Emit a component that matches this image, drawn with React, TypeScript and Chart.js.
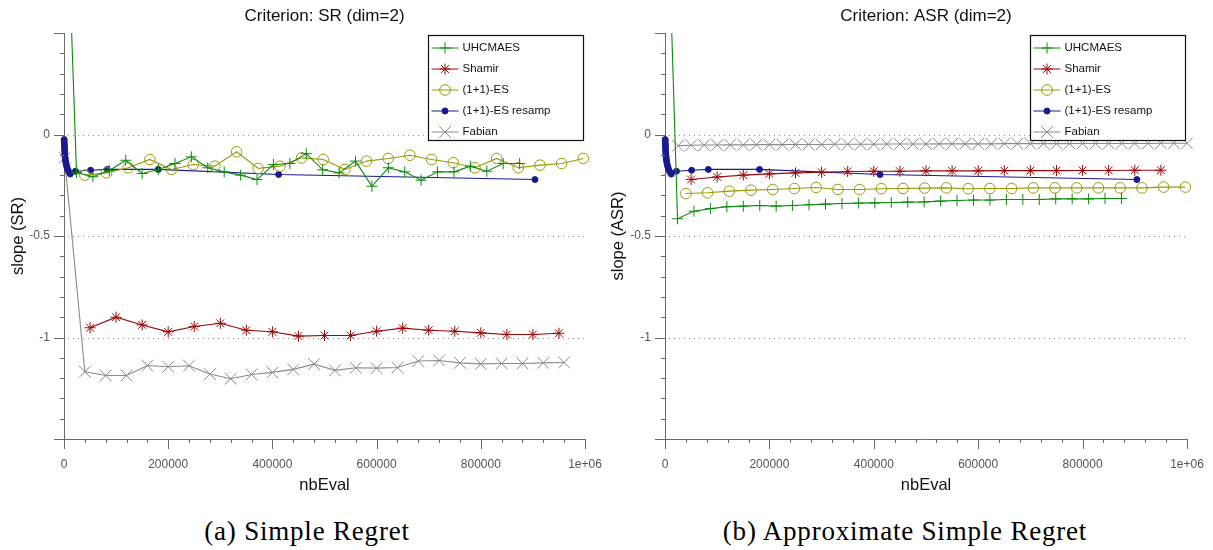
import React, { useEffect, useRef } from 'react';
import { Chart, registerables } from 'chart.js';

Chart.register(...registerables);

// ---------------- data ----------------
const UHC_X = [0, 24000, 55500, 87000, 118500, 150000, 181500, 213000, 244500, 276000, 307500, 339000, 370500, 402000, 433500, 465000, 496500, 528000, 559500, 591000, 622500, 654000, 685500, 717000, 748500, 780000, 811500, 843000, 874500];
const SR_UHC = [1.58, -0.187, -0.208, -0.177, -0.127, -0.192, -0.172, -0.143, -0.110, -0.164, -0.184, -0.200, -0.222, -0.148, -0.143, -0.094, -0.174, -0.189, -0.131, -0.255, -0.164, -0.184, -0.225, -0.184, -0.184, -0.156, -0.181, -0.143, -0.143];
const ASR_UHC = [1.58, -0.415, -0.378, -0.365, -0.356, -0.353, -0.350, -0.353, -0.350, -0.346, -0.343, -0.340, -0.338, -0.337, -0.335, -0.333, -0.332, -0.328, -0.325, -0.323, -0.323, -0.320, -0.320, -0.320, -0.317, -0.317, -0.317, -0.315, -0.315];

const SHAMIR_X = [50000, 100000, 150000, 200000, 250000, 300000, 350000, 400000, 450000, 500000, 550000, 600000, 650000, 700000, 750000, 800000, 850000, 900000, 950000];
const SR_SHAMIR = [-0.952, -0.900, -0.938, -0.972, -0.946, -0.930, -0.964, -0.972, -0.993, -0.990, -0.990, -0.969, -0.954, -0.964, -0.969, -0.977, -0.985, -0.985, -0.979];
const ASR_SHAMIR = [-0.222, -0.209, -0.200, -0.194, -0.189, -0.186, -0.182, -0.181, -0.181, -0.179, -0.179, -0.179, -0.178, -0.178, -0.178, -0.177, -0.177, -0.176, -0.176];

const ES_X = [40000, 81600, 123200, 164800, 206400, 248000, 289600, 331200, 372800, 414400, 456000, 497600, 539200, 580800, 622400, 664000, 705600, 747200, 788800, 830400, 872000, 913600, 955200, 996800];
const SR_ES = [-0.200, -0.189, -0.164, -0.123, -0.172, -0.148, -0.156, -0.085, -0.167, -0.156, -0.115, -0.123, -0.172, -0.131, -0.118, -0.102, -0.123, -0.139, -0.164, -0.118, -0.164, -0.151, -0.143, -0.118];
const ASR_ES = [-0.291, -0.287, -0.279, -0.274, -0.271, -0.266, -0.261, -0.271, -0.271, -0.267, -0.266, -0.264, -0.263, -0.267, -0.266, -0.266, -0.263, -0.263, -0.263, -0.263, -0.263, -0.263, -0.259, -0.259];

const RESAMP_X = [300, 500, 700, 900, 1100, 1300, 1600, 2000, 2600, 3300, 4300, 5500, 7000, 9000, 12000, 22000, 51000, 83000, 181000, 412000, 904000];
const SR_RESAMP = [-0.025, -0.035, -0.048, -0.060, -0.072, -0.085, -0.098, -0.110, -0.122, -0.135, -0.148, -0.160, -0.172, -0.183, -0.195, -0.181, -0.176, -0.172, -0.172, -0.197, -0.222];
const ASR_RESAMP = [-0.025, -0.035, -0.048, -0.060, -0.072, -0.085, -0.098, -0.110, -0.122, -0.135, -0.148, -0.160, -0.172, -0.183, -0.195, -0.181, -0.176, -0.172, -0.172, -0.197, -0.222];

const FABIAN_SR_X = [1000, 40000, 80000, 120000, 160000, 200000, 240000, 280000, 320000, 360000, 400000, 440000, 480000, 520000, 560000, 600000, 640000, 680000, 720000, 760000, 800000, 840000, 880000, 920000, 960000];
const SR_FABIAN = [-0.115, -1.169, -1.187, -1.187, -1.138, -1.144, -1.139, -1.180, -1.203, -1.182, -1.172, -1.157, -1.131, -1.162, -1.149, -1.151, -1.148, -1.116, -1.113, -1.125, -1.130, -1.128, -1.128, -1.125, -1.123];
const FABIAN_ASR_X = [25000, 50000, 75000, 100000, 125000, 150000, 175000, 200000, 225000, 250000, 275000, 300000, 325000, 350000, 375000, 400000, 425000, 450000, 475000, 500000, 525000, 550000, 575000, 600000, 625000, 650000, 675000, 700000, 725000, 750000, 775000, 800000, 825000, 850000, 875000, 900000, 925000, 950000, 975000, 1000000];
const ASR_FABIAN = [-0.055, -0.053, -0.052, -0.052, -0.051, -0.051, -0.050, -0.050, -0.050, -0.049, -0.049, -0.049, -0.048, -0.048, -0.048, -0.048, -0.047, -0.047, -0.047, -0.047, -0.046, -0.046, -0.046, -0.046, -0.046, -0.045, -0.045, -0.045, -0.045, -0.045, -0.045, -0.044, -0.044, -0.044, -0.044, -0.044, -0.044, -0.043, -0.043, -0.043];

const SERIES_NAMES = ['UHCMAES', 'Shamir', '(1+1)-ES', '(1+1)-ES resamp', 'Fabian'];
const Y_LABEL_TICKS = [-1, -0.5, 0];
const GRID_Y = [-1, -0.5, 0];
const X_STEP = 200000;

// ---------------- styles ----------------
const FONT = "'Liberation Sans', Arial, Helvetica, sans-serif";
const SERIF = "'Liberation Serif', 'Times New Roman', serif";

type Marker = 'cross' | 'star' | 'circle' | 'crossRot';
type Style = { color: string; marker: Marker; radius: number; filled: boolean };
const STYLES: Style[] = [
  { color: '#0c8c0c', marker: 'cross', radius: 5.5, filled: false },
  { color: '#990808', marker: 'star', radius: 5.5, filled: false },
  { color: '#999908', marker: 'circle', radius: 5.3, filled: false },
  { color: '#1a1a8e', marker: 'circle', radius: 3, filled: true },
  { color: '#8a8a8a', marker: 'crossRot', radius: 8.3, filled: false },
];

function drawMarker(ctx: CanvasRenderingContext2D, s: Style, x: number, y: number) {
  const r = s.radius;
  ctx.save();
  ctx.strokeStyle = s.color;
  ctx.fillStyle = s.color;
  ctx.lineWidth = 1;
  ctx.beginPath();
  if (s.marker === 'circle') {
    ctx.arc(x, y, r, 0, Math.PI * 2);
    if (s.filled) ctx.fill();
    ctx.stroke();
  } else {
    if (s.marker === 'cross' || s.marker === 'star') {
      ctx.moveTo(x - r, y); ctx.lineTo(x + r, y);
      ctx.moveTo(x, y - r); ctx.lineTo(x, y + r);
    }
    if (s.marker === 'crossRot' || s.marker === 'star') {
      const d = r * Math.SQRT1_2;
      ctx.moveTo(x - d, y - d); ctx.lineTo(x + d, y + d);
      ctx.moveTo(x - d, y + d); ctx.lineTo(x + d, y - d);
    }
    ctx.stroke();
  }
  ctx.restore();
}

const decorPlugin = {
  id: 'decor',
  beforeDatasetsDraw(chart: any) {
    const { ctx, chartArea: a } = chart;
    const y = chart.scales.y;
    ctx.save();
    ctx.strokeStyle = '#8c8c8c';
    ctx.lineWidth = 1;
    ctx.setLineDash([1, 4]);
    GRID_Y.forEach((v) => {
      const py = Math.round(y.getPixelForValue(v)) + 0.5;
      ctx.beginPath();
      ctx.moveTo(a.left + 4, py);
      ctx.lineTo(a.right, py);
      ctx.stroke();
    });
    ctx.restore();
  },
  afterDraw(chart: any) {
    const { ctx, chartArea: a } = chart;
    const x = chart.scales.x;
    const y = chart.scales.y;
    ctx.save();
    ctx.strokeStyle = '#6a6a6a';
    ctx.lineWidth = 1;
    for (let k = -15; k <= 5; k++) {
      const py = Math.round(y.getPixelForValue(k / 10)) + 0.5;
      const len = k % 5 === 0 ? 10 : 4;
      ctx.beginPath();
      ctx.moveTo(a.left - len, py);
      ctx.lineTo(a.left, py);
      ctx.stroke();
    }
    for (let k = 0; k <= 25; k++) {
      const px = Math.round(x.getPixelForValue(k * 40000)) + 0.5;
      const len = k % 5 === 0 ? 10 : 4;
      ctx.beginPath();
      ctx.moveTo(px, a.bottom);
      ctx.lineTo(px, a.bottom + len);
      ctx.stroke();
    }
    ctx.restore();

    // legend (key)
    const lw = 155;
    const lh = 105;
    const lx = Math.round(a.right - 2 - lw) + 0.5;
    const ly = Math.round(a.top + 2) + 0.5;
    ctx.save();
    ctx.fillStyle = '#ffffff';
    ctx.fillRect(lx, ly, lw, lh);
    ctx.strokeStyle = '#111';
    ctx.lineWidth = 1.2;
    ctx.strokeRect(lx, ly, lw, lh);
    ctx.font = `11.5px ${FONT}`;
    ctx.textBaseline = 'middle';
    ctx.textAlign = 'left';
    SERIES_NAMES.forEach((name, i) => {
      const s = STYLES[i];
      const ry = ly + 12.5 + i * 21;
      ctx.strokeStyle = s.color;
      ctx.lineWidth = 1;
      ctx.beginPath();
      ctx.moveTo(lx + 3, ry);
      ctx.lineTo(lx + 30, ry);
      ctx.stroke();
      drawMarker(ctx, s, lx + 16.5, ry);
      ctx.fillStyle = '#111';
      ctx.fillText(name, lx + 34, ry);
    });
    ctx.restore();
  },
};

type PanelSpec = {
  title: string;
  yTitle: string;
  xs: number[][];
  ys: number[][];
  left: number;
  width: number;
  axisW: number;
  padR: number;
  caption: string;
  captionX: number;
};

const PANELS: PanelSpec[] = [
  {
    title: 'Criterion: SR (dim=2)',
    yTitle: 'slope (SR)',
    xs: [UHC_X, SHAMIR_X, ES_X, RESAMP_X, FABIAN_SR_X],
    ys: [SR_UHC, SR_SHAMIR, SR_ES, SR_RESAMP, SR_FABIAN],
    left: 0,
    width: 610,
    axisW: 64,
    padR: 25,
    caption: '(a) Simple Regret',
    captionX: 307,
  },
  {
    title: 'Criterion: ASR (dim=2)',
    yTitle: 'slope (ASR)',
    xs: [UHC_X, SHAMIR_X, ES_X, RESAMP_X, FABIAN_ASR_X],
    ys: [ASR_UHC, ASR_SHAMIR, ASR_ES, ASR_RESAMP, ASR_FABIAN],
    left: 600,
    width: 613,
    axisW: 65,
    padR: 26,
    caption: '(b) Approximate Simple Regret',
    captionX: 905,
  },
];

const H = 500;

function buildConfig(p: PanelSpec): any {
  const datasets = SERIES_NAMES.map((name, i) => {
    const s = STYLES[i];
    const xs = p.xs[i];
    const ys = p.ys[i];
    const isUhc = i === 0;
    return {
      label: name,
      data: xs.map((x, j) => ({ x, y: ys[j] })),
      borderColor: s.color,
      backgroundColor: s.color,
      borderWidth: 1.1,
      tension: 0,
      pointStyle: s.marker,
      pointRadius: isUhc ? xs.map((_, j) => (j === 0 ? 0 : s.radius)) : s.radius,
      pointBorderColor: s.color,
      pointBackgroundColor: s.filled ? s.color : 'rgba(0,0,0,0)',
      pointBorderWidth: 1,
      clip: isUhc ? { left: 10, top: 0, right: 10, bottom: 0 } : false,
    };
  });
  return {
    type: 'line',
    data: { datasets },
    plugins: [decorPlugin],
    options: {
      animation: false,
      responsive: false,
      events: [],
      layout: { padding: { left: 0, right: p.padR, top: 0, bottom: 0 } },
      plugins: {
        legend: { display: false },
        tooltip: { enabled: false },
        title: {
          display: true,
          text: p.title,
          fullSize: false,
          color: '#111',
          font: { family: FONT, size: 17, weight: 'normal' },
          padding: { top: 6.3, bottom: 6.3 },
        },
      },
      scales: {
        x: {
          type: 'linear',
          min: 0,
          max: 1000000,
          grid: { display: true, drawOnChartArea: false, drawTicks: true, tickLength: 18, color: 'rgba(0,0,0,0)', tickColor: 'rgba(0,0,0,0)' },
          border: { display: true, color: '#6a6a6a', width: 1 },
          ticks: {
            stepSize: X_STEP,
            padding: 0,
            autoSkip: false,
            maxRotation: 0,
            color: '#555',
            font: { family: FONT, size: 12 },
            callback: (v: number) => (v === 1000000 ? '1e+06' : String(v)),
          },
          title: { display: true, text: 'nbEval', color: '#111', font: { family: FONT, size: 16.5 }, padding: { top: 0, bottom: 5.1 } },
          afterFit: (s: any) => { s.height = H - 439; },
        },
        y: {
          type: 'linear',
          min: -1.5,
          max: 0.5,
          afterBuildTicks: (s: any) => { s.ticks = Y_LABEL_TICKS.map((v) => ({ value: v })); },
          grid: { display: true, drawOnChartArea: false, drawTicks: true, tickLength: 14, color: 'rgba(0,0,0,0)', tickColor: 'rgba(0,0,0,0)' },
          border: { display: true, color: '#6a6a6a', width: 1 },
          ticks: { padding: 0, color: '#555', font: { family: FONT, size: 12 }, callback: (v: number) => String(v) },
          title: { display: true, text: p.yTitle, color: '#111', font: { family: FONT, size: 16.5 }, padding: { top: 9, bottom: 0 } },
          afterFit: (s: any) => { s.width = p.axisW; },
        },
      },
    },
  };
}

function Panel({ spec }: { spec: PanelSpec }) {
  const ref = useRef<HTMLCanvasElement>(null);
  useEffect(() => {
    const chart = new Chart(ref.current as HTMLCanvasElement, buildConfig(spec));
    return () => chart.destroy();
  }, [spec]);
  return (
    <canvas
      ref={ref}
      width={spec.width}
      height={H}
      style={{ position: 'absolute', left: spec.left, top: 0, width: spec.width, height: H }}
    />
  );
}

export default function App() {
  return (
    <div style={{ position: 'fixed', left: 0, top: 0, width: 1213, height: 550, background: '#fff', overflow: 'hidden' }}>
      {PANELS.map((p) => (
        <React.Fragment key={p.caption}>
          <Panel spec={p} />
          <div
            style={{
              position: 'absolute',
              left: p.captionX - 300,
              width: 600,
              top: 516,
              textAlign: 'center',
              fontFamily: SERIF,
              fontSize: 27,
              letterSpacing: '0.8px',
              lineHeight: '30px',
              color: '#000',
              whiteSpace: 'nowrap',
            }}
          >
            {p.caption}
          </div>
        </React.Fragment>
      ))}
    </div>
  );
}
